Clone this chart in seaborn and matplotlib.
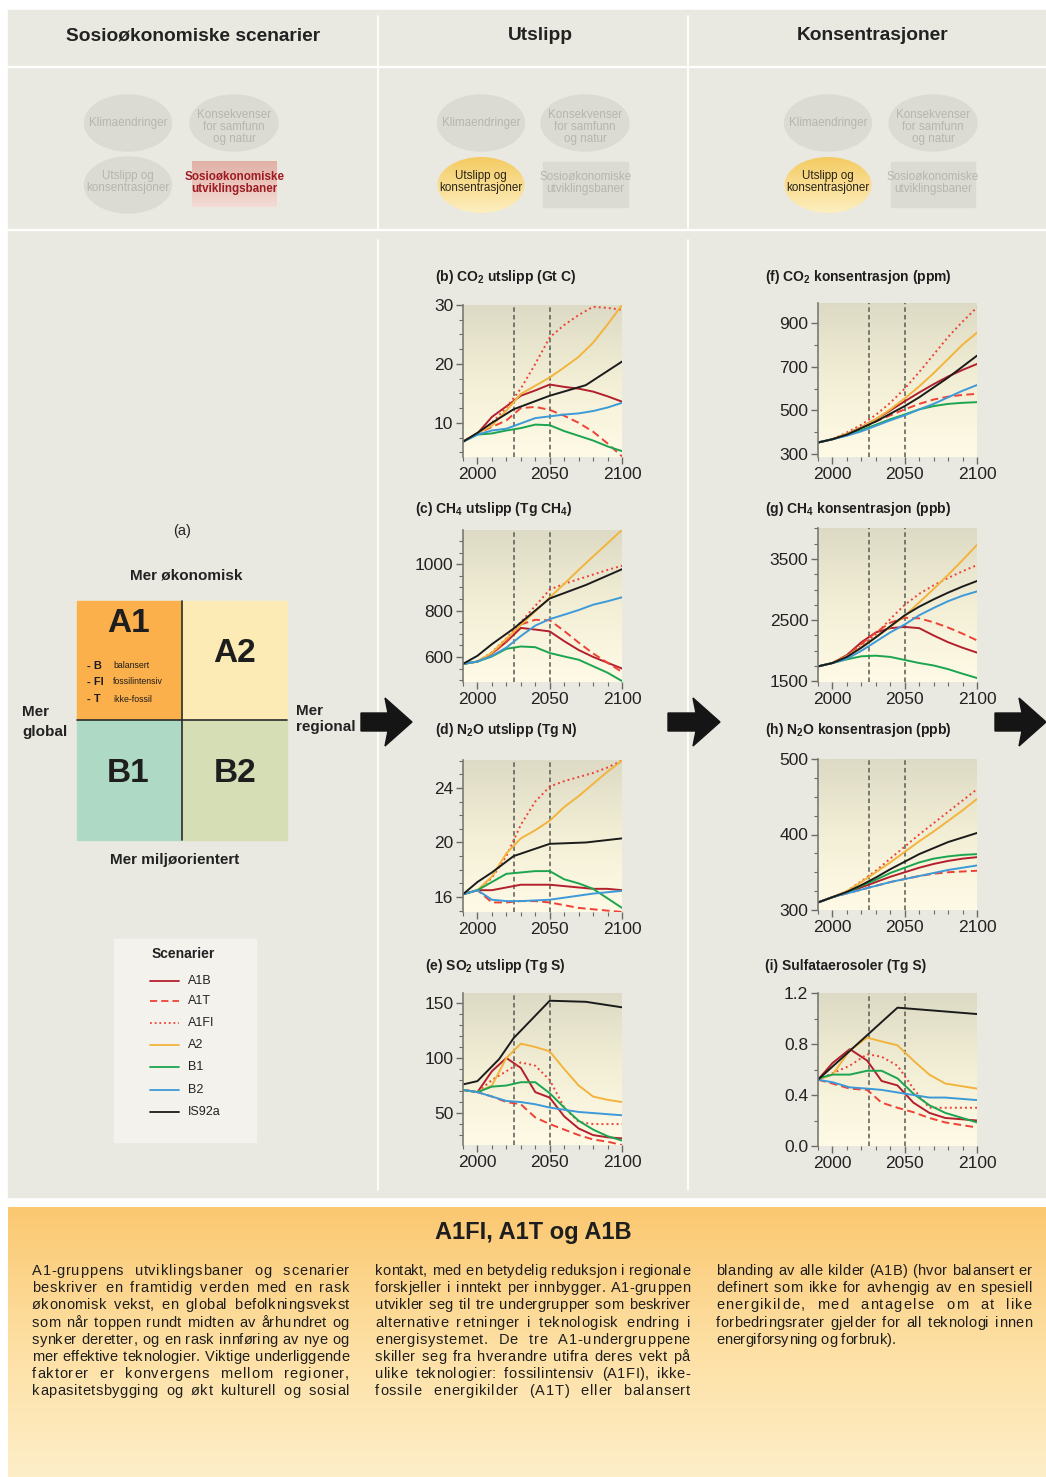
import numpy as np
import pandas as pd
import matplotlib
matplotlib.use("Agg")
import matplotlib.pyplot as plt
import seaborn as sns
from matplotlib.patches import Rectangle, Ellipse, Polygon
from matplotlib.colors import LinearSegmentedColormap
from matplotlib.ticker import MultipleLocator, FixedLocator, FormatStrFormatter
from matplotlib.lines import Line2D

sns.set_theme(style="white")
plt.rcParams['font.family'] = ['Liberation Sans', 'DejaVu Sans']
plt.rcParams['mathtext.fontset'] = 'custom'
plt.rcParams['mathtext.rm'] = 'Liberation Sans'
plt.rcParams['mathtext.bf'] = 'Liberation Sans:bold'

NARROW = ['Liberation Sans Narrow', 'Liberation Sans', 'DejaVu Sans']

# ---------------------------------------------------------------- data
scenarios = ["A1B", "A1T", "A1FI", "A2", "B1", "B2", "IS92a"]
decades = [1990, 2000, 2010, 2020, 2030, 2040, 2050, 2060, 2070, 2080, 2090, 2100]
is92a_years = [1990, 2000, 2010, 2025, 2050, 2075, 2100]
is92a_years_so2 = [1990, 2000, 2015, 2025, 2050, 2075, 2100]
sulfat_years = [1990, 2000, 2012, 2024, 2034, 2045, 2056, 2067, 2078, 2100]
is92a_years_sulfat = [1990, 2045, 2100]

co2_utslipp = {
    "A1B":  [6.8, 8.2, 11.0, 12.8, 14.6, 15.5, 16.5, 16.1, 15.8, 15.3, 14.5, 13.6],
    "A1T":  [6.8, 8.2, 9.3, 10.4, 12.5, 12.7, 12.2, 11.2, 10.0, 8.5, 6.5, 4.3],
    "A1FI": [6.8, 8.2, 10.0, 12.6, 15.8, 20.0, 24.5, 26.6, 28.3, 29.7, 29.5, 29.2],
    "A2":   [6.8, 8.2, 9.5, 12.1, 14.9, 16.3, 17.7, 19.4, 21.2, 23.6, 26.7, 30.0],
    "B1":   [6.8, 8.0, 8.2, 8.7, 9.1, 9.7, 9.6, 8.6, 7.8, 7.0, 6.0, 5.2],
    "B2":   [6.8, 8.0, 8.7, 9.0, 9.9, 10.8, 11.1, 11.4, 11.6, 12.0, 12.6, 13.4],
    "IS92a": [6.8, 8.3, 10.0, 12.3, 14.6, 16.4, 20.4],
}
ch4_utslipp = {
    "A1B":  [570, 580, 615, 665, 725, 718, 710, 668, 630, 600, 575, 550],
    "A1T":  [570, 580, 612, 668, 740, 760, 758, 712, 662, 615, 575, 535],
    "A1FI": [570, 580, 620, 680, 750, 820, 890, 915, 935, 955, 975, 993],
    "A2":   [570, 580, 618, 678, 738, 797, 856, 915, 975, 1033, 1090, 1147],
    "B1":   [570, 580, 602, 635, 645, 642, 617, 602, 588, 560, 532, 496],
    "B2":   [570, 580, 605, 640, 690, 735, 763, 782, 802, 825, 840, 857],
    "IS92a": [570, 605, 655, 722, 852, 910, 978],
}
n2o_utslipp = {
    "A1B":  [16.2, 16.5, 16.5, 16.7, 16.9, 16.9, 16.9, 16.8, 16.7, 16.6, 16.6, 16.5],
    "A1T":  [16.2, 16.5, 15.6, 15.6, 15.7, 15.7, 15.6, 15.4, 15.2, 15.1, 15.0, 14.9],
    "A1FI": [16.2, 16.5, 17.4, 19.0, 21.3, 23.0, 24.1, 24.5, 24.8, 25.1, 25.5, 26.0],
    "A2":   [16.2, 16.5, 17.5, 19.2, 20.3, 20.9, 21.6, 22.6, 23.4, 24.3, 25.2, 26.0],
    "B1":   [16.2, 16.5, 17.1, 17.7, 17.8, 17.9, 17.9, 17.3, 17.0, 16.6, 15.9, 15.2],
    "B2":   [16.2, 16.5, 15.8, 15.7, 15.7, 15.75, 15.8, 15.95, 16.1, 16.25, 16.35, 16.45],
    "IS92a": [16.2, 17.1, 17.8, 19.0, 19.9, 20.0, 20.3],
}
so2_utslipp = {
    "A1B":  [71, 69, 88, 100, 91, 69, 64, 47, 36, 30, 28, 27],
    "A1T":  [71, 69, 65, 60, 58, 46, 40, 35, 30, 26, 24, 21],
    "A1FI": [71, 69, 80, 88, 96, 93, 80, 55, 42, 40, 40, 40],
    "A2":   [71, 69, 75, 100, 113, 110, 106, 90, 75, 65, 62, 60],
    "B1":   [71, 69, 74, 75, 78, 78, 68, 55, 43, 35, 29, 25],
    "B2":   [71, 69, 65, 61, 60, 58, 55, 53, 51, 50, 49, 48],
    "IS92a": [76, 79, 99, 118, 152, 151, 146],
}
co2_kons = {
    "A1B":  [354, 369, 393, 424, 460, 500, 542, 582, 620, 655, 685, 712],
    "A1T":  [354, 369, 390, 420, 450, 478, 505, 530, 550, 563, 571, 576],
    "A1FI": [354, 369, 400, 435, 480, 535, 600, 675, 755, 835, 905, 970],
    "A2":   [354, 369, 393, 424, 460, 505, 555, 610, 670, 735, 800, 855],
    "B1":   [354, 369, 388, 410, 435, 460, 482, 505, 520, 530, 535, 538],
    "B2":   [354, 369, 385, 405, 430, 455, 478, 505, 530, 560, 590, 616],
    "IS92a": [354, 369, 390, 420, 450, 485, 520, 560, 605, 650, 700, 750],
}
ch4_kons = {
    "A1B":  [1745, 1800, 1930, 2140, 2300, 2370, 2390, 2370, 2250, 2140, 2050, 1970],
    "A1T":  [1745, 1800, 1920, 2110, 2300, 2460, 2540, 2530, 2465, 2380, 2280, 2170],
    "A1FI": [1745, 1800, 1920, 2080, 2270, 2520, 2750, 2930, 3070, 3190, 3300, 3400],
    "A2":   [1745, 1800, 1910, 2060, 2220, 2390, 2570, 2790, 3010, 3240, 3480, 3730],
    "B1":   [1745, 1800, 1860, 1910, 1920, 1900, 1850, 1800, 1760, 1700, 1625, 1555],
    "B2":   [1745, 1800, 1870, 2000, 2150, 2300, 2430, 2580, 2700, 2810, 2900, 2970],
    "IS92a": [1745, 1800, 1900, 2050, 2220, 2400, 2580, 2720, 2840, 2950, 3050, 3140],
}
n2o_kons = {
    "A1B":  [310, 317, 323, 330, 337, 344, 350, 356, 361, 365, 368, 370],
    "A1T":  [310, 317, 322, 327, 332, 337, 341, 345, 348, 350, 351, 352],
    "A1FI": [310, 317, 325, 338, 352, 368, 384, 400, 415, 430, 445, 460],
    "A2":   [310, 317, 325, 337, 350, 363, 377, 391, 404, 418, 432, 447],
    "B1":   [310, 317, 323, 332, 340, 349, 356, 363, 368, 371, 373, 374],
    "B2":   [310, 317, 322, 327, 332, 337, 341, 345, 349, 353, 356, 359],
    "IS92a": [310, 317, 324, 333, 343, 354, 364, 374, 382, 390, 396, 402],
}
sulfataerosoler = {
    "A1B":  [0.52, 0.65, 0.76, 0.67, 0.51, 0.475, 0.34, 0.26, 0.22, 0.20],
    "A1T":  [0.52, 0.49, 0.45, 0.44, 0.34, 0.30, 0.265, 0.22, 0.185, 0.145],
    "A1FI": [0.52, 0.57, 0.63, 0.72, 0.70, 0.63, 0.45, 0.30, 0.30, 0.30],
    "A2":   [0.52, 0.56, 0.75, 0.85, 0.82, 0.79, 0.67, 0.56, 0.49, 0.45],
    "B1":   [0.53, 0.56, 0.56, 0.59, 0.59, 0.53, 0.41, 0.32, 0.26, 0.185],
    "B2":   [0.52, 0.50, 0.46, 0.45, 0.44, 0.42, 0.40, 0.38, 0.38, 0.36],
    "IS92a": [0.52, 1.085, 1.035],
}

colors = {"A1B": "#B3202D", "A1T": "#EE4236", "A1FI": "#EE4236", "A2": "#F2B43C",
          "B1": "#1CA550", "B2": "#3D9AD8", "IS92a": "#1B1B1B"}
dashes = {"A1B": "", "A1T": (4, 2.2), "A1FI": (1, 1.6), "A2": "", "B1": "", "B2": "", "IS92a": ""}

# ---------------------------------------------------------------- figure
W, H = 1046, 1477
fig = plt.figure(figsize=(W / 100, H / 100), dpi=100)
fig.patch.set_facecolor("white")
bg = fig.add_axes([0, 0, 1, 1])
bg.set_xlim(0, W)
bg.set_ylim(H, 0)
bg.axis("off")

GREY = "#EAE9E1"
bg.add_patch(Rectangle((8, 10), W - 8, 1187, color=GREY, zorder=0))
bg.plot([8, W], [67, 67], color="white", lw=1.6, zorder=1)
bg.plot([8, W], [230, 230], color="white", lw=1.6, zorder=1)
for xv in (378, 688):
    bg.plot([xv, xv], [16, 229], color="white", lw=1.3, zorder=1)
    bg.plot([xv, xv], [240, 1190], color="white", lw=1.3, zorder=1)

hdr = dict(ha="center", va="center", fontsize=13.8, fontweight="bold", color="#222222")
bg.text(193, 36, "Sosioøkonomiske scenarier", **hdr)
bg.text(540, 36, "Utslipp", **hdr)
bg.text(873, 35, "Konsentrasjoner", **hdr)


def gradient_fill(patch, stops, extent, z):
    patch.set_facecolor("none")
    patch.set_edgecolor("none")
    patch.set_zorder(z)
    bg.add_patch(patch)
    cmap = LinearSegmentedColormap.from_list("g", stops)
    g = np.linspace(0, 1, 128)[:, None]
    im = bg.imshow(g, extent=extent, cmap=cmap, aspect="auto", zorder=z,
                   interpolation="bilinear")
    im.set_clip_path(patch)


ELL_GREY = "#DCDBD3"
TXT_GREY = "#B7B6AE"
small = dict(ha="center", va="center", fontsize=8.4, family=NARROW, linespacing=1.05)


def mini_diagram(cx1, cx2, rx0, rx1, highlight):
    bg.add_patch(Ellipse((cx1, 123), 87, 56, color=ELL_GREY, zorder=2))
    bg.text(cx1, 123, "Klimaendringer", color=TXT_GREY, zorder=3, **small)
    bg.add_patch(Ellipse((cx2, 123), 88, 56, color=ELL_GREY, zorder=2))
    bg.text(cx2, 127, "Konsekvenser\nfor samfunn\nog natur", color=TXT_GREY, zorder=3, **small)
    if highlight == "rect":
        bg.add_patch(Ellipse((cx1, 185), 87, 56, color=ELL_GREY, zorder=2))
        bg.text(cx1, 182, "Utslipp og\nkonsentrasjoner", color=TXT_GREY, zorder=3, **small)
        gradient_fill(Rectangle((rx0, 161), rx1 - rx0, 46), ["#E1B0A6", "#F3DCD5"],
                      (rx0, rx1, 207, 161), 2)
        bg.text((rx0 + rx1) / 2, 183, "Sosioøkonomiske\nutviklingsbaner", color="#9E1B22",
                fontweight="bold", zorder=3, **small)
    else:
        gradient_fill(Ellipse((cx1, 185), 87, 56), ["#F4CB62", "#FDEFC0"],
                      (cx1 - 44, cx1 + 44, 213, 157), 2)
        bg.text(cx1, 182, "Utslipp og\nkonsentrasjoner", color="#2A2418", zorder=3, **small)
        bg.add_patch(Rectangle((rx0, 162), rx1 - rx0, 45, color=ELL_GREY, zorder=2))
        bg.text((rx0 + rx1) / 2, 183, "Sosioøkonomiske\nutviklingsbaner", color=TXT_GREY,
                zorder=3, **small)


mini_diagram(128, 234, 192, 277, "rect")
mini_diagram(481, 585, 543, 628, "ellipse")
mini_diagram(828, 933, 891, 975, "ellipse")

# ---------------------------------------------------------------- panel (a)
bg.text(182, 531, "(a)", ha="center", va="center", fontsize=10.5, color="#222")
bg.text(186, 575, "Mer økonomisk", ha="center", va="center", fontsize=11,
        fontweight="bold", color="#222")
bg.text(175, 860, "Mer miljøorientert", ha="center", va="center", fontsize=11,
        fontweight="bold", color="#222")
for txt, yy in (("Mer", 712), ("global", 732)):
    bg.text(22, yy, txt, ha="left", va="center", fontsize=11, fontweight="bold", color="#222")
for txt, yy in (("Mer", 711), ("regional", 727)):
    bg.text(296, yy, txt, ha="left", va="center", fontsize=11, fontweight="bold", color="#222")

quad = [((77, 601), "#FBB04C"), ((182, 601), "#FDEBB5"),
        ((77, 720), "#AEDAC5"), ((182, 720), "#D6DEB5")]
for (qx, qy), qc in quad:
    bg.add_patch(Rectangle((qx, qy), 105, 119 if qy == 601 else 120, color=qc, zorder=2))
bg.plot([182, 182], [601, 840], color="#2B2B2B", lw=1.2, zorder=3)
bg.plot([77, 287], [720, 720], color="#2B2B2B", lw=1.2, zorder=3)
big = dict(ha="center", va="center", fontsize=24, fontweight="bold", color="#1E1E1E", zorder=4)
bg.text(128, 623, "A1", **big)
bg.text(235, 654, "A2", **big)
bg.text(128, 773, "B1", **big)
bg.text(235, 773, "B2", **big)
for code, desc, yy in (("- B", "balansert", 666), ("- FI", "fossilintensiv", 682),
                       ("- T", "ikke-fossil", 699)):
    bg.text(87, yy, code, ha="left", va="center", fontsize=8, fontweight="bold",
            color="#1E1E1E", zorder=4)
    bg.text(113, yy, desc, ha="left", va="center", fontsize=6.3, color="#1E1E1E", zorder=4)

# legend box
bg.add_patch(Rectangle((114, 939), 142, 203, color="#F3F2ED", zorder=2))
bg.text(183, 954, "Scenarier", ha="center", va="center", fontsize=10, fontweight="bold",
        color="#222", zorder=3)
leg_y = [981, 1001, 1023, 1045, 1067, 1090, 1112]
for sc, yy in zip(scenarios, leg_y):
    d = dashes[sc]
    ls = "-" if d == "" else (0, d)
    bg.add_line(Line2D([150, 179], [yy, yy], color=colors[sc], lw=1.3, linestyle=ls, zorder=3))
    bg.text(188, yy, sc, ha="left", va="center", fontsize=9, color="#222", zorder=3)


# arrows between the columns
def arrow(x0, x1, yc):
    xh = x1 - 24
    pts = [(x0, yc - 9), (xh, yc - 9), (xh - 3, yc - 24), (x1, yc), (xh - 3, yc + 24),
           (xh, yc + 9), (x0, yc + 9)]
    bg.add_patch(Polygon(pts, closed=True, color="#151515", zorder=5))


arrow(361, 412, 722)
arrow(668, 720, 722)
arrow(995, 1046, 722)

# ---------------------------------------------------------------- bottom box
gradient_fill(Rectangle((8, 1207), W - 8, H - 1207), ["#FBC871", "#FDDFA2", "#FEEEC8"],
              (8, W, H, 1207), 1)
bg.text(533, 1233, "A1FI, A1T og A1B", ha="center", va="center", fontsize=17,
        fontweight="bold", family=NARROW, color="#1E1E1E", zorder=3)

col1 = ["A1-gruppens utviklingsbaner og scenarier",
        "beskriver en framtidig verden med en rask",
        "økonomisk vekst, en global befolkningsvekst",
        "som når toppen rundt midten av århundret og",
        "synker deretter, og en rask innføring av nye og",
        "mer effektive teknologier. Viktige underliggende",
        "faktorer er konvergens mellom regioner,",
        "kapasitetsbygging og økt kulturell og sosial"]
col2 = ["kontakt, med en betydelig reduksjon i regionale",
        "forskjeller i inntekt per innbygger. A1-gruppen",
        "utvikler seg til tre undergrupper som beskriver",
        "alternative retninger i teknologisk endring i",
        "energisystemet. De tre A1-undergruppene",
        "skiller seg fra hverandre utifra deres vekt på",
        "ulike teknologier: fossilintensiv (A1FI), ikke-",
        "fossile energikilder (A1T) eller balansert"]
col3 = ["blanding av alle kilder (A1B) (hvor balansert er",
        "definert som ikke for avhengig av en spesiell",
        "energikilde, med antagelse om at like",
        "forbedringsrater gjelder for all teknologi innen",
        "energiforsyning og forbruk)."]

renderer = fig.canvas.get_renderer()
body = dict(fontsize=10.5, family=NARROW, color="#1E1E1E", va="baseline", ha="left", zorder=3)
_probe = bg.text(0, -50, "nn", **body)
_w_nn = _probe.get_window_extent(renderer).width
_probe.set_text("n n")
SPACE_W = _probe.get_window_extent(renderer).width - _w_nn
_probe.remove()


def justified(lines, x0, x1, y0, dy, last_left=False):
    # set each line letter by letter, sharing the slack between letters and word gaps
    for i, line in enumerate(lines):
        yy = y0 + i * dy
        glyphs = []
        for ch in line:
            if ch == " ":
                glyphs.append((None, SPACE_W))
            else:
                t = bg.text(0, yy, ch, **body)
                glyphs.append((t, t.get_window_extent(renderer).width))
        natural = sum(w for _, w in glyphs)
        n_gap = len(glyphs) - 1
        n_sp = line.count(" ")
        if last_left and i == len(lines) - 1:
            e_letter, e_space = 0.0, 0.0
        else:
            extra = (x1 - x0) - natural
            e_letter = max(min(extra * 0.6 / n_gap, 2.2), -0.6)
            e_space = (extra - e_letter * n_gap) / max(n_sp, 1)
        x = x0
        for t, w in glyphs:
            if t is not None:
                t.set_x(x)
                x += w + e_letter
            else:
                x += w + e_letter + e_space


justified(col1, 32, 349, 1275, 17.2)
justified(col2, 375, 690, 1275, 17.2)
justified(col3, 716, 1032, 1275, 17.2, last_left=True)

# ---------------------------------------------------------------- line panels
AX_STOPS = ["#DDDAC5", "#F3EFD6", "#FEFAE6"]
ax_cmap = LinearSegmentedColormap.from_list("axbg", AX_STOPS)


def panel(box, series, years, ylim, major, minor, title, tx, ty, fmt=None):
    l, t, r, b = box
    ax = fig.add_axes([l / W, 1 - b / H, (r - l) / W, (b - t) / H])
    ax.imshow(np.linspace(0, 1, 128)[:, None], extent=[0, 1, 0, 1], transform=ax.transAxes,
              cmap=ax_cmap, aspect="auto", zorder=0, origin="upper")
    rows = []
    for sc in scenarios:
        yrs = years[sc] if isinstance(years, dict) else years
        for yr, v in zip(yrs, series[sc]):
            rows.append({"year": yr, "value": v, "scenario": sc})
    df = pd.DataFrame(rows)
    for xv in (2025, 2050):
        ax.axvline(xv, color="#5A5A55", lw=1.1, linestyle=(0, (3, 2)), zorder=1)
    sns.lineplot(data=df, x="year", y="value", hue="scenario", style="scenario",
                 hue_order=scenarios, style_order=scenarios, palette=colors, dashes=dashes,
                 estimator=None, legend=False, linewidth=1.4, ax=ax, zorder=2)
    ax.set_xlim(1990, 2100)
    ax.set_ylim(*ylim)
    ax.set_facecolor("none")
    for s in ("top", "right", "bottom"):
        ax.spines[s].set_visible(False)
    ax.spines["left"].set_color("#7A7A74")
    ax.spines["left"].set_linewidth(1.2)
    ax.xaxis.set_major_locator(FixedLocator([2000, 2050, 2100]))
    ax.xaxis.set_minor_locator(MultipleLocator(10))
    ax.yaxis.set_major_locator(FixedLocator(major))
    ax.yaxis.set_minor_locator(MultipleLocator(minor))
    if fmt:
        ax.yaxis.set_major_formatter(FormatStrFormatter(fmt))
    ax.tick_params(which="both", left=True, bottom=True, direction="out", color="#6A6A64")
    ax.tick_params(which="major", length=5, width=1, labelsize=12.5, labelcolor="#222", pad=2)
    ax.tick_params(which="minor", length=3, width=0.8)
    ax.set_xlabel("")
    ax.set_ylabel("")
    bg.text(tx, ty, title, ha="left", va="baseline", fontsize=10, fontweight="bold",
            color="#1E1E1E")
    return ax


def with_is92a(isy):
    return {**{sc: decades for sc in scenarios[:-1]}, "IS92a": isy}


panel((463, 305, 622, 457), co2_utslipp, with_is92a(is92a_years), (4.2, 30), [10, 20, 30], 2.5,
      r"(b) CO$_\mathbf{2}$ utslipp (Gt C)", 435, 281)
panel((463, 530, 622, 682), ch4_utslipp, with_is92a(is92a_years), (492, 1147), [600, 800, 1000], 50,
      r"(c) CH$_\mathbf{4}$ utslipp (Tg CH$_\mathbf{4}$)", 415, 513)
panel((463, 760, 622, 912), n2o_utslipp, with_is92a(is92a_years), (14.9, 26.05), [16, 20, 24], 1,
      r"(d) N$_\mathbf{2}$O utslipp (Tg N)", 435, 734)
panel((463, 993, 622, 1145), so2_utslipp, with_is92a(is92a_years_so2), (21, 159), [50, 100, 150], 10,
      r"(e) SO$_\mathbf{2}$ utslipp (Tg S)", 425, 970)
panel((818, 303, 977, 457), co2_kons, decades, (288, 990), [300, 500, 700, 900], 100,
      r"(f) CO$_\mathbf{2}$ konsentrasjon (ppm)", 765, 281)
panel((818, 528, 977, 682), ch4_kons, decades, (1490, 4006), [1500, 2500, 3500], 250,
      r"(g) CH$_\mathbf{4}$ konsentrasjon (ppb)", 765, 513)
panel((818, 759, 977, 910), n2o_kons, decades, (300, 500), [300, 400, 500], 25,
      r"(h) N$_\mathbf{2}$O konsentrasjon (ppb)", 765, 734)
sulf_years = {**{sc: sulfat_years for sc in scenarios[:-1]}, "IS92a": is92a_years_sulfat}
panel((818, 993, 977, 1146), sulfataerosoler, sulf_years, (0, 1.2), [0.0, 0.4, 0.8, 1.2], 0.2,
      "(i) Sulfataerosoler (Tg S)", 765, 970, fmt="%.1f")

bg.set_xlim(0, W)
bg.set_ylim(H, 0)
fig.savefig("out.png", dpi=100, facecolor="white")
